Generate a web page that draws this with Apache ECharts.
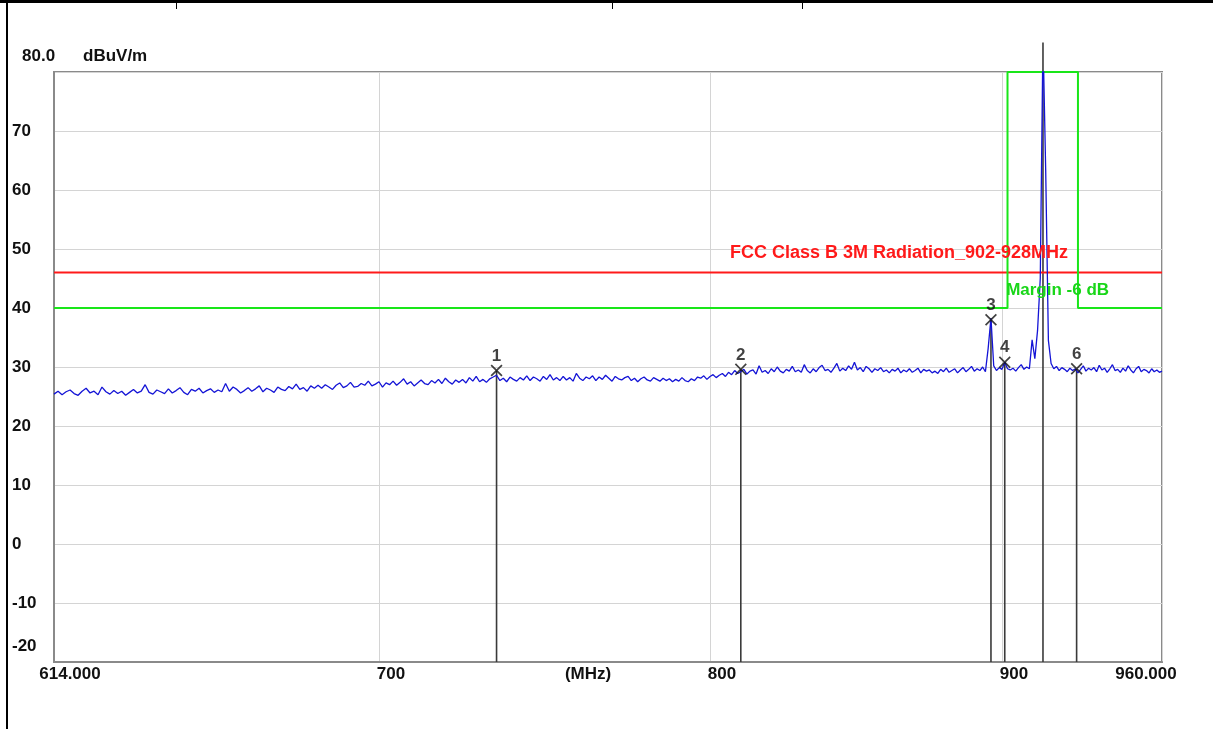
<!DOCTYPE html>
<html>
<head>
<meta charset="utf-8">
<title>FCC Class B 3M Radiation 902-928MHz</title>
<script src="https://cdn.jsdelivr.net/npm/echarts@6/dist/echarts.min.js"></script>
<style>
  html, body { margin: 0; padding: 0; background: #fff; }
  #chart { width: 1213px; height: 729px; }
</style>
</head>
<body>
<div id="chart"></div>
<script>
  // sweep: 614 .. 960 MHz, one reading per MHz (dBuV/m)
  const sweepStartMHz = 614
  const sweepStepMHz = 1
  const traceLevel = [
    25.4, 25.9, 25.3, 25.8, 26.1, 25.5, 25.2, 25.9, 26.4, 25.6,
    25.9, 25.3, 26.6, 25.8, 25.4, 26.0, 25.5, 25.9, 25.2, 25.7,
    26.2, 25.6, 25.9, 27.0, 25.7, 25.4, 26.1, 25.8, 25.5, 26.3,
    25.6, 26.0, 26.5, 25.7, 25.3, 26.2, 25.9, 26.4, 25.6, 26.0,
    26.3, 25.7, 26.1, 25.8, 27.2, 25.9, 26.6, 26.2, 25.6, 26.0,
    26.5, 25.9, 26.3, 26.8, 25.8, 26.4, 26.1, 25.7, 26.6, 26.2,
    26.0, 26.7, 26.3, 27.1, 26.2, 26.5, 25.9, 26.8, 26.4, 26.9,
    26.4, 27.0, 26.6, 26.2, 26.9, 27.3, 26.5, 26.8, 27.4, 26.6,
    26.7, 27.2, 26.9, 27.6, 26.8, 27.1, 27.5, 26.6, 27.3, 27.0,
    27.6, 26.9, 27.4, 28.0, 27.1, 27.5, 26.8, 27.3, 27.8, 27.2,
    27.0, 27.7, 27.3, 27.9, 27.2, 28.1, 27.5, 27.1, 27.8, 27.4,
    27.9, 27.3, 28.2, 27.6, 28.4, 27.5, 27.9, 27.4, 28.0, 28.3,
    28.6, 27.7, 28.1, 27.5, 28.3, 27.9, 27.6, 28.2, 27.8, 28.5,
    27.7, 28.3, 28.0, 27.6, 28.4, 27.9, 28.7, 27.8, 28.2, 27.7,
    28.4, 27.8, 28.2, 27.6, 28.9, 28.1, 27.7, 28.3, 28.0, 28.5,
    27.7, 28.3, 27.9, 28.6, 28.1, 27.6, 28.4, 28.0, 27.8, 28.2,
    28.4, 27.7, 28.1, 27.5, 28.0, 28.3, 27.8, 27.6, 28.2, 27.9,
    27.6, 28.1, 27.7, 28.0, 27.5, 27.9, 27.6, 28.2, 27.7, 27.5,
    28.0, 27.7, 28.3, 28.1, 28.5, 27.9, 28.4, 28.7, 28.2, 28.6,
    28.9, 28.4, 29.1, 28.7, 29.4, 28.9, 29.2, 29.6, 28.8, 29.3,
    29.5, 28.8, 30.2, 29.1, 29.4, 28.9, 29.7, 29.2, 30.0, 29.3,
    29.0, 29.6, 29.3, 30.1, 29.2, 29.5, 29.1, 30.4, 29.4, 29.0,
    29.7, 29.2, 29.9, 30.3, 29.4, 29.6, 29.1, 29.8, 30.6, 29.3,
    29.8, 29.4, 30.2, 29.6, 30.8, 29.5, 29.9, 29.2, 30.1, 29.7,
    29.1, 29.7, 29.4, 29.9, 29.2, 29.5, 29.0, 29.6, 29.3, 29.8,
    29.0, 29.5, 29.2, 29.7, 29.1, 29.4, 29.8, 29.0, 29.6, 29.3,
    29.5, 29.0, 29.3, 28.9, 29.6, 29.2, 29.8, 29.1, 29.4, 29.7,
    29.0, 29.5, 29.9, 29.2, 29.6, 30.1, 29.3, 29.7, 29.4, 30.0,
    29.2, 33.2, 38.3, 30.2, 29.4, 29.9, 29.6, 30.8, 29.7, 29.5,
    29.8, 29.3, 29.9, 30.4, 29.6, 30.0, 29.7, 34.6, 31.4, 36.2,
    45.0, 86.0, 63.4, 34.5, 30.6, 29.7, 30.1, 29.4, 29.9, 29.6,
    29.2, 29.8, 29.4, 29.7, 29.0, 29.6, 30.2, 29.3, 29.8, 29.5,
    29.9, 29.2, 30.3, 29.5, 29.8, 29.1, 29.7, 30.4, 29.4, 29.6,
    29.1, 29.8, 29.3, 30.2, 29.5, 29.0, 29.7, 30.1, 29.2, 29.6,
    29.4, 29.0, 29.7, 29.2, 29.5, 29.1, 29.3
  ]

  // limit and margin lines
  const limitFreq = [614, 960]
  const limitLevel = [46, 46]
  const marginFreq = [614, 902, 902, 928, 928, 960]
  const marginLevel = [40, 40, 80, 80, 40, 40]

  // markers
  const markerNo = ['1', '2', '3', '4', '5', '6']
  const markerFreq = [734, 810, 896, 901, 915, 927.5]
  const markerLevel = [29.4, 29.6, 38.0, 30.8, 85.0, 29.7]

  // gridlines / labels on the frequency axis
  const xGrid = [614, 700, 800, 900, 960]
  const xLabelAt = [614, 700, 761.6, 800, 900, 960]
  const xLabelText = ['614.000', '700', '(MHz)', '800', '900', '960.000']
  const xLabelKind = ['lo', 'mid', 'unit', 'mid', 'mid', 'hi']

  const yFloor = -20

  const boldFont = { fontFamily: 'Liberation Sans', fontWeight: 'bold', fontSize: 17, color: '#111' }

  let trace = traceLevel.map((v, i) => [sweepStartMHz + i * sweepStepMHz, v])
  let limit = limitFreq.map((f, i) => [f, limitLevel[i]])
  let margin = marginFreq.map((f, i) => [f, marginLevel[i]])
  let markers = markerFreq.map((f, i) => ({
    value: [f, markerLevel[i]],
    name: markerNo[i],
    // marker 5 sits above the plot, only its line shows
    symbolSize: markerNo[i] === '5' ? 0 : 12,
    label: { show: markerNo[i] !== '5' }
  }))
  let stems = markerFreq.map((f, i) => [f, markerLevel[i]])

  let myChart = echarts.init(document.getElementById('chart'))
  myChart.setOption({
    animation: false,
    backgroundColor: '#fff',
    graphic: [
      { type: 'rect', shape: { x: 0, y: 0, width: 1213, height: 3 }, style: { fill: '#000' } },
      { type: 'rect', shape: { x: 6, y: 0, width: 2, height: 729 }, style: { fill: '#000' } },
      { type: 'rect', shape: { x: 176, y: 0, width: 1, height: 9 }, style: { fill: '#000' } },
      { type: 'rect', shape: { x: 612, y: 0, width: 1, height: 9 }, style: { fill: '#000' } },
      { type: 'rect', shape: { x: 802, y: 0, width: 1, height: 9 }, style: { fill: '#000' } }
    ],
    grid: {
      left: 54,
      right: 51,
      top: 72,
      bottom: 67,
      show: true,
      borderColor: '#8a8a8a',
      borderWidth: 2
    },
    xAxis: {
      type: 'log',
      logBase: 10,
      min: 614,
      max: 960,
      axisLine: { show: true, onZero: false, lineStyle: { color: '#8a8a8a', width: 2 } },
      axisTick: { show: false, customValues: xGrid },
      splitLine: { show: true, lineStyle: { color: '#d4d4d4', width: 1 } },
      axisLabel: {
        customValues: xLabelAt,
        margin: 4,
        formatter: function (v) {
          let i = xLabelAt.findIndex(t => Math.abs(t - v) < 0.5)
          if (i < 0) return ''
          return '{' + xLabelKind[i] + '|' + xLabelText[i] + '}'
        },
        rich: {
          lo: Object.assign({}, boldFont, { padding: [0, 0, 0, 32] }),
          mid: Object.assign({}, boldFont, { padding: [0, 0, 0, 24] }),
          unit: Object.assign({}, boldFont),
          hi: Object.assign({}, boldFont, { padding: [0, 32, 0, 0] })
        }
      }
    },
    yAxis: {
      type: 'value',
      min: -20,
      max: 80,
      interval: 10,
      name: 'dBuV/m',
      nameLocation: 'end',
      nameGap: 16,
      nameTextStyle: Object.assign({}, boldFont, { align: 'left', verticalAlign: 'middle', padding: [0, 0, 0, 29] }),
      axisLine: { show: true, lineStyle: { color: '#8a8a8a', width: 2 } },
      axisTick: { show: false },
      splitLine: { show: true, lineStyle: { color: '#d4d4d4', width: 1 } },
      axisLabel: {
        align: 'left',
        margin: 42,
        formatter: function (v) {
          if (v === 80) return '{top|80.0}'
          if (v === -20) return '{bot|-20}'
          return '{n|' + v + '}'
        },
        rich: {
          n: Object.assign({}, boldFont),
          top: Object.assign({}, boldFont, { padding: [0, 0, 32, 10] }),
          bot: Object.assign({}, boldFont, { padding: [0, 0, 32, 0] })
        }
      }
    },
    series: [
      {
        // marker stems, drawn from the floor up to each marker (5 runs past the top)
        name: 'stems',
        type: 'custom',
        clip: false,
        silent: true,
        data: stems,
        encode: { x: 0, y: 1 },
        z: 1,
        renderItem: function (params, api) {
          let top = api.coord([api.value(0), api.value(1)])
          let bottom = api.coord([api.value(0), yFloor])
          return {
            type: 'line',
            shape: { x1: top[0], y1: top[1], x2: bottom[0], y2: bottom[1] },
            style: { stroke: '#3a3a3a', lineWidth: 1.6 }
          }
        }
      },
      {
        name: 'trace',
        type: 'line',
        data: trace,
        showSymbol: false,
        lineStyle: { color: '#1414d6', width: 1.3 },
        z: 3
      },
      {
        name: 'limit',
        type: 'line',
        data: limit,
        showSymbol: false,
        lineStyle: { color: '#ff1a1a', width: 2 },
        z: 2,
        markPoint: {
          symbolSize: 0,
          data: [{ coord: [924.3, 46] }],
          label: Object.assign({}, boldFont, {
            show: true,
            fontSize: 18,
            color: '#ff1a1a',
            position: 'inside',
            align: 'right',
            verticalAlign: 'bottom',
            offset: [0, -11],
            formatter: 'FCC Class B 3M Radiation_902-928MHz'
          })
        }
      },
      {
        name: 'margin',
        type: 'line',
        data: margin,
        showSymbol: false,
        lineStyle: { color: '#19e619', width: 2 },
        z: 2,
        markPoint: {
          symbolSize: 0,
          data: [{ coord: [901.5, 41.5] }],
          label: Object.assign({}, boldFont, {
            show: true,
            color: '#19d619',
            position: 'inside',
            align: 'left',
            verticalAlign: 'bottom',
            formatter: 'Margin -6 dB'
          })
        }
      },
      {
        name: 'markers',
        type: 'scatter',
        clip: false,
        data: markers,
        symbol: 'path://M0,1 L1,0 L5,4 L9,0 L10,1 L6,5 L10,9 L9,10 L5,6 L1,10 L0,9 L4,5 Z',
        itemStyle: { color: '#111' },
        z: 4,
        label: Object.assign({}, boldFont, {
          fontSize: 17,
          color: '#111',
          position: 'top',
          distance: 0,
          formatter: '{b}'
        })
      }
    ]
  })
</script>
</body>
</html>
